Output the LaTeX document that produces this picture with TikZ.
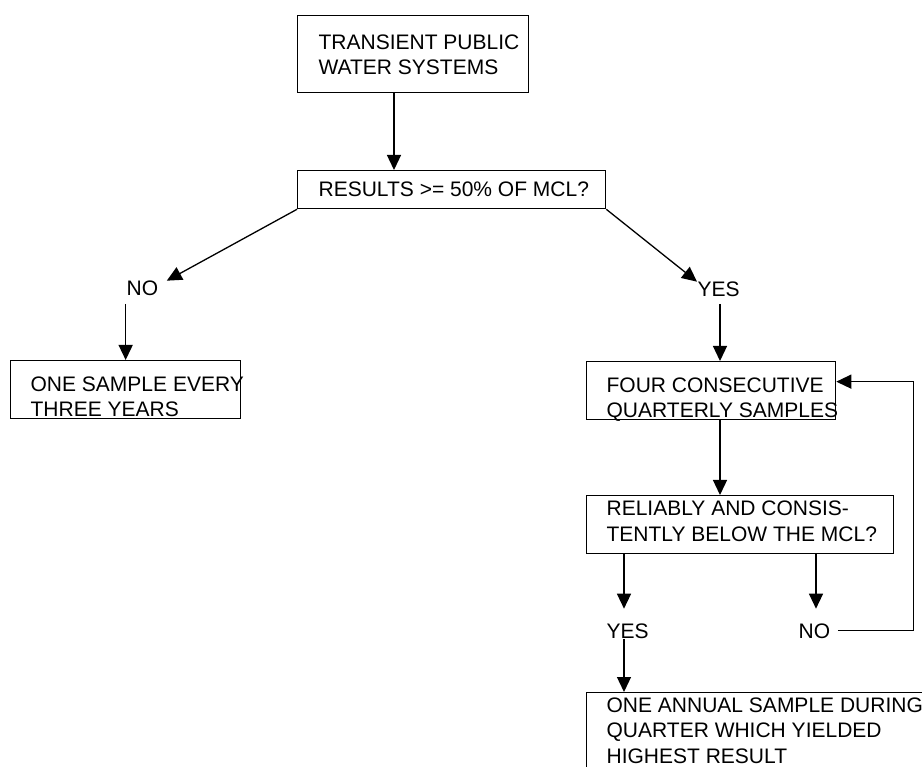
\documentclass[tikz,border=0pt]{standalone}
\usepackage{fontspec}
\setmainfont{Liberation Sans}
\usetikzlibrary{arrows.meta,calc}
\begin{document}
\begin{tikzpicture}[x=1pt,y=-1pt,line width=1.3pt,
    box/.style={draw,inner sep=0pt,anchor=north west},
    txt/.style={inner sep=0pt,anchor=base west,align=left,font=\fontsize{21}{25.3}\selectfont},
    arr/.style={-{Triangle[length=15pt,width=14pt]}}]
  \useasboundingbox (0,0) rectangle (922,767);
  \clip (0,0) rectangle (922,767);
  \node[box,minimum width=231pt,minimum height=77pt] (transient) at (297,15) {};
  \node[txt] at (318,75) {TRANSIENT PUBLIC\\WATER SYSTEMS};
  \node[box,minimum width=308pt,minimum height=38pt] (results) at (297,170) {};
  \node[txt] at (318,197) {RESULTS >= 50\% OF MCL?};
  \node[txt] (no1) at (126,296) {NO};
  \node[txt] (yes1) at (697,297) {YES};
  \node[box,minimum width=230pt,minimum height=58pt] (every3) at (10,360) {};
  \node[txt] at (30,417) {ONE SAMPLE EVERY\\THREE YEARS};
  \node[box,minimum width=249pt,minimum height=58pt] (fourq) at (586,361) {};
  \node[txt] at (606,418) {FOUR CONSECUTIVE\\QUARTERLY SAMPLES};
  \node[box,minimum width=307pt,minimum height=58pt] (reliably) at (586,495) {};
  \node[txt] at (606,541) {RELIABLY AND CONSIS-\\TENTLY BELOW THE MCL?};
  \node[txt] (yes2) at (606,638) {YES};
  \node[txt] (no2) at (798,638) {NO};
  \node[box,minimum width=360pt,minimum height=100pt] (annual) at (586,692) {};
  \node[txt] at (606,763) {ONE ANNUAL SAMPLE DURING\\QUARTER WHICH YIELDED\\HIGHEST RESULT};

  \draw[arr] ($(transient.south west)+(97,0)$) coordinate (c0) -- (c0 |- results.north);
  \draw[arr] (results.south west) -- ([xshift=8pt]no1.north east);
  \draw[arr] (results.south east) -- (yes1.north west);
  \draw[arr] ($(every3.north |- no1.south)+(0,7)$) -- (every3.north);
  \coordinate (c1) at ($(fourq.north west)+(134,0)$);
  \draw[arr] ($(c1 |- yes1.south)+(0,6)$) -- (c1);
  \draw[arr] ($(fourq.south west)+(134,0)$) -- ($(reliably.north west)+(134,0)$);
  \draw[arr] ($(reliably.south west)+(38,0)$) coordinate (c2) -- ($(c2 |- yes2.north)+(0,-14)$);
  \draw[arr] ($(reliably.south west)+(230,0)$) coordinate (c3) -- ($(c3 |- no2.north)+(0,-14)$);
  \draw[arr] ($(no2.east)+(7,0)$) -- ++(76,0) |- ($(fourq.east)+(0,-9)$);
  \draw[arr] (c2 |- yes2.south) -- (c2 |- annual.north);
\end{tikzpicture}
\end{document}
